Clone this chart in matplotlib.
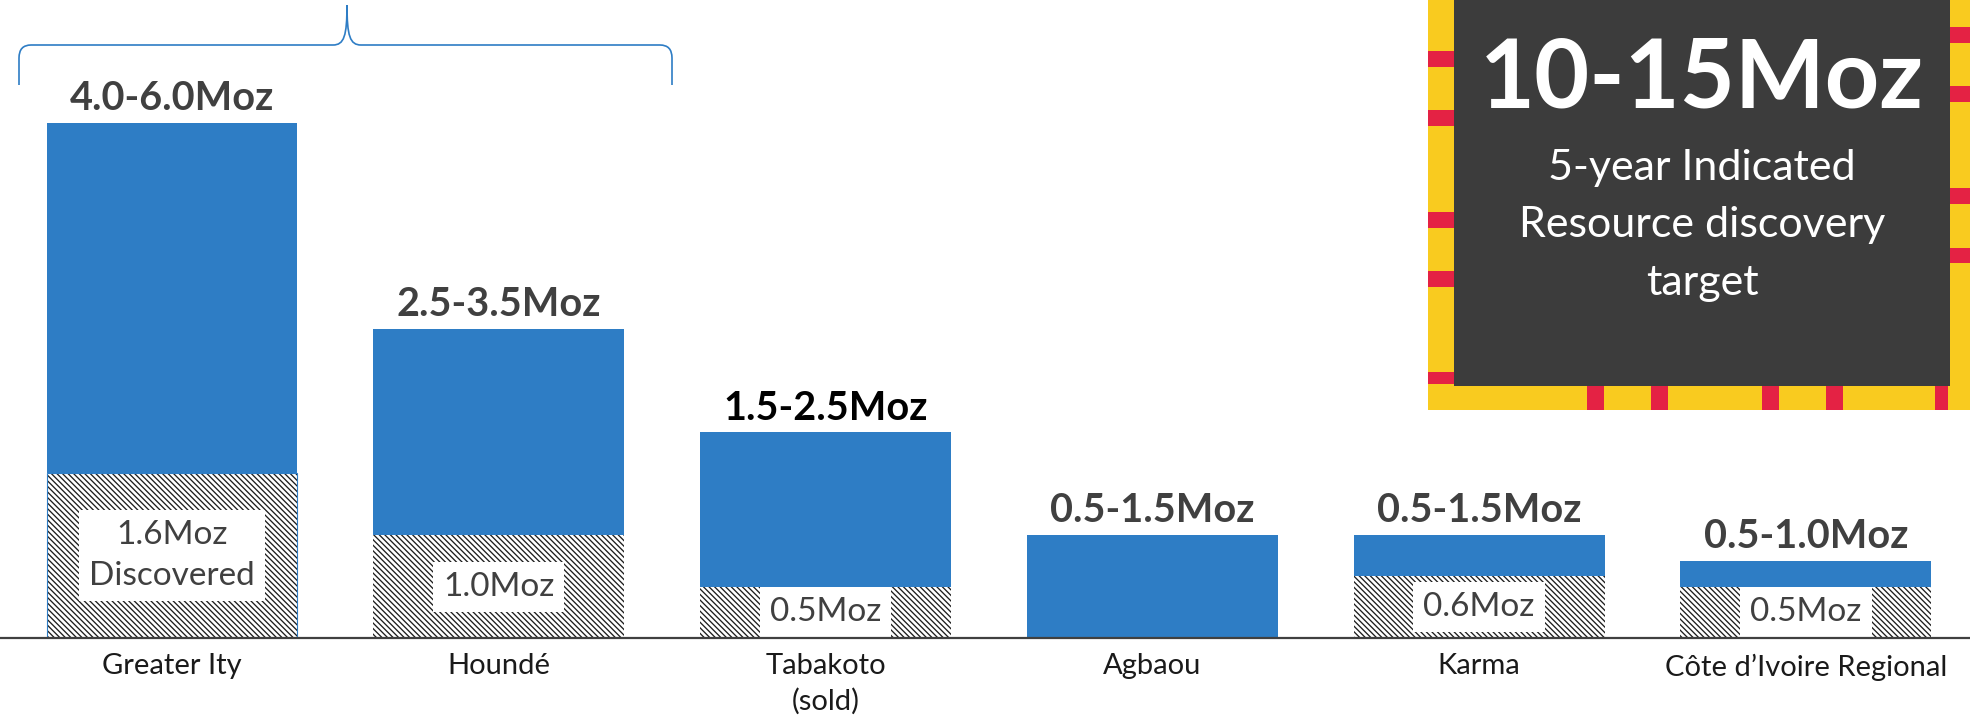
import matplotlib
matplotlib.use("Agg")
import matplotlib.pyplot as plt
from matplotlib.patches import Rectangle, PathPatch
from matplotlib.path import Path
import numpy as np

plt.rcParams['font.family'] = ['Lato', 'DejaVu Sans']
plt.rcParams['hatch.linewidth'] = 0.95

# ---------------- data ----------------
categories = ["Greater Ity", "Houndé", "Tabakoto\n(sold)", "Agbaou", "Karma",
              "Côte d’Ivoire Regional"]
range_labels = ["4.0-6.0Moz", "2.5-3.5Moz", "1.5-2.5Moz", "0.5-1.5Moz",
                "0.5-1.5Moz", "0.5-1.0Moz"]
target_mid = [5.0, 3.0, 2.0, 1.0, 1.0, 0.75]
discovered = [1.6, 1.0, 0.5, 0.0, 0.6, 0.5]
discovered_labels = ["1.6Moz\nDiscovered", "1.0Moz", "0.5Moz", "", "0.6Moz", "0.5Moz"]
box_title = "10-15Moz"
box_lines = ["5-year Indicated", "Resource discovery", "target"]

# ---------------- figure ----------------
W, H = 1970, 723
fig = plt.figure(figsize=(W / 100, H / 100), dpi=100)
ax = fig.add_axes([0, 85 / H, 1, 638 / H])

x = np.arange(len(categories))
remaining = [t - d for t, d in zip(target_mid, discovered)]
blue = '#2E7DC5'
bw = 0.768

ax.bar(x, discovered, width=bw, color='white', edgecolor='#1e1e1e',
       linewidth=0, hatch='\\\\\\\\\\\\', zorder=2)
ax.bar(x[:1], discovered[:1], width=bw, fill=False, edgecolor=blue,
       linewidth=0.8, zorder=3)
ax.bar(x, remaining, bottom=discovered, width=bw, color=blue,
       linewidth=0, zorder=2)

label_colors = ['#404040', '#404040', '#000000', '#404040', '#404040', '#404040']
for i, (t, lab) in enumerate(zip(target_mid, range_labels)):
    ax.annotate(lab, (x[i], t), xytext=(0, 9), textcoords='offset points',
                ha='center', va='baseline', fontsize=28.5, fontweight='bold',
                color=label_colors[i])

for i, (d, lab) in enumerate(zip(discovered, discovered_labels)):
    if not lab:
        continue
    ax.text(x[i], max(d / 2, 0.245), lab, ha='center', va='center',
            fontsize=24, color='#404040', linespacing=1.45, zorder=4,
            bbox=dict(boxstyle='square,pad=0.3', facecolor='white',
                      edgecolor='none'))

ax.set_xlim(-0.5263, 5.502)
ax.set_ylim(0, 638 / 103)
for s in ['top', 'left', 'right']:
    ax.spines[s].set_visible(False)
ax.spines['bottom'].set_color('#404040')
ax.spines['bottom'].set_linewidth(1.6)
ax.spines['bottom'].set_zorder(5)
ax.set_yticks([])
ax.set_xticks(x, categories)
ax.tick_params(axis='x', length=0, pad=11, labelsize=21, labelcolor='#1a1a1a')
for t in ax.get_xticklabels():
    t.set_linespacing(1.4)
ax.patch.set_visible(False)

# ---------------- overlay (pixel coords) ----------------
ov = fig.add_axes([0, 0, 1, 1], zorder=-1)
ov.set_xlim(0, W)
ov.set_ylim(H, 0)
ov.axis('off')

# brace
verts = [(19, 85), (19, 58), (19, 45), (31, 45), (333, 45),
         (344, 45), (347, 36), (347, 5),
         (347, 36), (350, 45), (361, 45),
         (660, 45), (672, 45), (672, 58), (672, 85)]
codes = [Path.MOVETO, Path.LINETO, Path.CURVE3, Path.CURVE3, Path.LINETO,
         Path.CURVE4, Path.CURVE4, Path.CURVE4,
         Path.CURVE4, Path.CURVE4, Path.CURVE4,
         Path.LINETO, Path.CURVE3, Path.CURVE3, Path.LINETO]
ov.add_patch(PathPatch(Path(verts, codes), fill=False, edgecolor=blue, lw=1.2))

# target box
yellow, red, dark = '#F9CB1F', '#E42244', '#3C3C3C'
ov.add_patch(Rectangle((1428, 0), W - 1428, 410, facecolor=yellow, lw=0))
for y0, y1 in [(51, 67), (110, 126), (212, 228), (271, 287), (372, 384)]:
    ov.add_patch(Rectangle((1428, y0), 26, y1 - y0, facecolor=red, lw=0))
for y0, y1 in [(27, 43), (86, 102), (188, 204), (248, 263)]:
    ov.add_patch(Rectangle((1950, y0), 20, y1 - y0, facecolor=red, lw=0))
for x0, x1 in [(1587, 1604), (1651, 1668), (1762, 1779), (1826, 1843), (1935, 1948)]:
    ov.add_patch(Rectangle((x0, 386), x1 - x0, 24, facecolor=red, lw=0))
ov.add_patch(Rectangle((1454, 0), 496, 386, facecolor=dark, lw=0))

cx = 1702
ov.text(cx, 107, box_title, ha='center', va='baseline', fontsize=68.5,
        fontweight='bold', color='white')
for yb, line in zip([180, 237, 295], box_lines):
    ov.text(cx, yb, line, ha='center', va='baseline', fontsize=31, color='white')

fig.savefig('out.png', dpi=100)
